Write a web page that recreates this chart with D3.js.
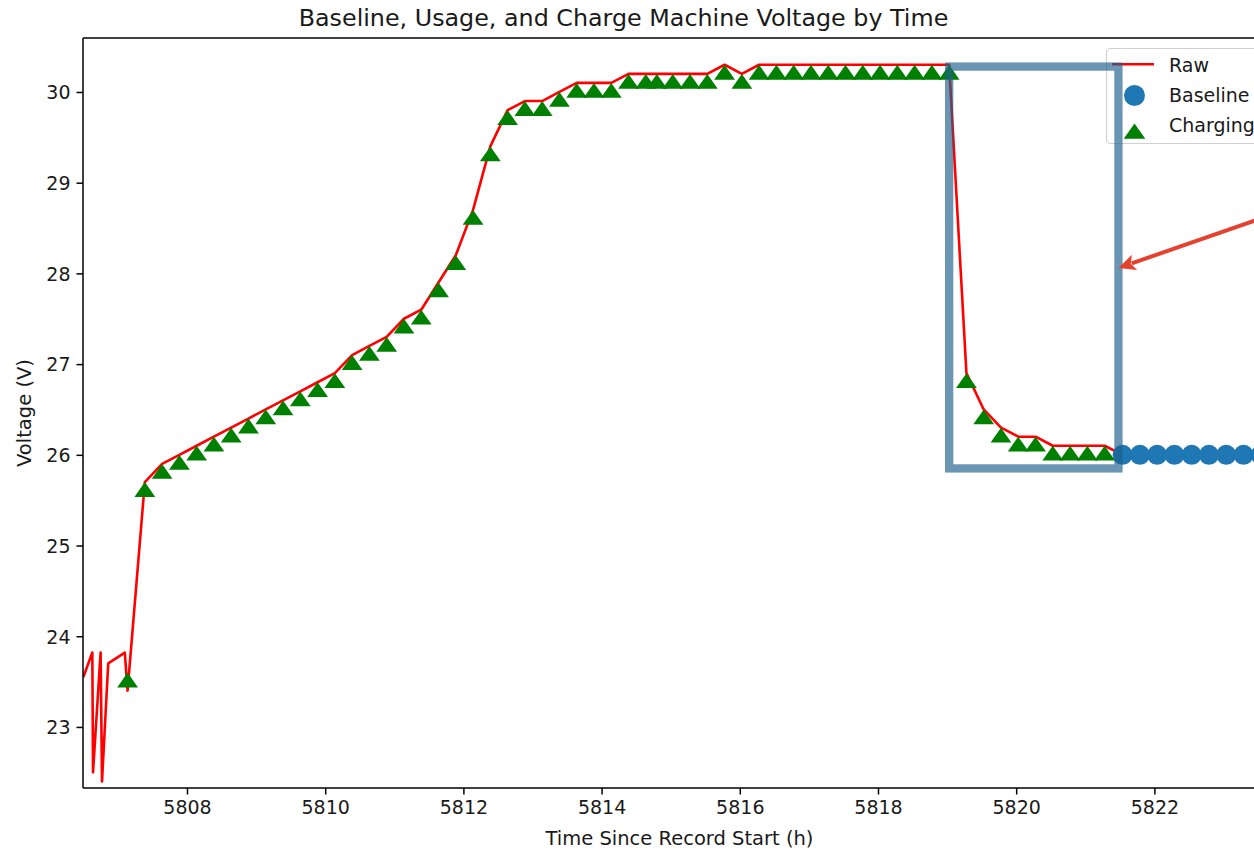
<!DOCTYPE html>
<html><head><meta charset="utf-8">
<script src="https://cdn.jsdelivr.net/npm/d3@7"></script>
<style>
body{margin:0;background:#fff}
svg{display:block}
text{font-family:"DejaVu Sans",sans-serif;fill:#1a1a1a}
</style>
</head><body>
<svg id="chart" width="1254" height="851"></svg>
<script>
// ---------- data ----------
const rawTime = [5806.50,5806.63,5806.64,5806.75,5806.77,5806.86,5807.10,5807.14,
  5807.39,5807.64,5807.89,5808.14,5808.39,5808.64,5808.89,5809.14,5809.39,5809.64,5809.89,
  5810.14,5810.39,5810.64,5810.89,5811.14,5811.39,5811.64,5811.89,5812.14,5812.39,5812.64,
  5812.89,5813.14,5813.39,5813.64,5813.89,5814.14,5814.39,5814.64,5814.80,
  5815.03,5815.28,5815.53,5815.78,5816.03,5816.28,5816.53,5816.78,5817.03,5817.28,5817.53,
  5817.78,5818.03,5818.28,5818.53,5818.78,5819.03,5819.28,5819.53,5819.78,5820.03,5820.28,
  5820.53,5820.78,5821.03,5821.28,5821.54,5821.79,5822.04,5822.29,5822.54,5822.79,5823.04,
  5823.29,5823.54,5823.79];
const rawVoltage = [23.55,23.82,22.50,23.82,22.40,23.70,23.82,23.40,
  25.7,25.9,26.0,26.1,26.2,26.3,26.4,26.5,26.6,26.7,26.8,
  26.9,27.1,27.2,27.3,27.5,27.6,27.9,28.2,28.7,29.4,29.8,
  29.9,29.9,30.0,30.1,30.1,30.1,30.2,30.2,30.2,
  30.2,30.2,30.2,30.3,30.2,30.3,30.3,30.3,30.3,30.3,30.3,
  30.3,30.3,30.3,30.3,30.3,30.3,26.9,26.5,26.3,26.2,26.2,
  26.1,26.1,26.1,26.1,26.0,26.0,26.0,26.0,26.0,26.0,26.0,
  26.0,26.0,26.0];

const chargeTime = [5807.14,5807.39,5807.64,5807.89,5808.14,5808.39,5808.64,5808.89,5809.14,
  5809.39,5809.64,5809.89,5810.14,5810.39,5810.64,5810.89,5811.14,5811.39,5811.64,5811.89,
  5812.14,5812.39,5812.64,5812.89,5813.14,5813.39,5813.64,5813.89,5814.14,5814.39,5814.64,
  5814.80,5815.03,5815.28,5815.53,5815.78,5816.03,5816.28,5816.53,5816.78,5817.03,5817.28,
  5817.53,5817.78,5818.03,5818.28,5818.53,5818.78,5819.03,5819.28,5819.53,5819.78,5820.03,
  5820.28,5820.53,5820.78,5821.03,5821.28];
const chargeVoltage = [23.5,25.6,25.8,25.9,26.0,26.1,26.2,26.3,26.4,
  26.5,26.6,26.7,26.8,27.0,27.1,27.2,27.4,27.5,27.8,28.1,
  28.6,29.3,29.7,29.8,29.8,29.9,30.0,30.0,30.0,30.1,30.1,
  30.1,30.1,30.1,30.1,30.2,30.1,30.2,30.2,30.2,30.2,30.2,
  30.2,30.2,30.2,30.2,30.2,30.2,30.2,26.8,26.4,26.2,26.1,
  26.1,26.0,26.0,26.0,26.0];

const baseTime = [5821.54,5821.79,5822.04,5822.29,5822.54,5822.79,5823.04,5823.29,5823.54,5823.79];
const baseVoltage = [26.0,26.0,26.0,26.0,26.0,26.0,26.0,26.0,26.0,26.0];

const xTicks = [5808,5810,5812,5814,5816,5818,5820,5822];
const yTicks = [23,24,25,26,27,28,29,30];
const xDomain = [5806.495, 5823.76];
const yDomain = [22.327, 30.595];

const legendLabels = ["Raw","Baseline","Charging"];
// highlight annotation (data units): [t0, t1], [v0, v1]
const boxTime = [5819.03, 5821.48];
const boxVoltage = [25.85, 30.28];
const arrowTime = [5823.90, 5821.48];
const arrowVoltage = [28.70, 28.06];

// ---------- layout ----------
const svg = d3.select("#chart");
const L = 83, R = 1276, T = 38, B = 788;
const x = d3.scaleLinear().domain(xDomain).range([L, R]);
const y = d3.scaleLinear().domain(yDomain).range([B, T]);

svg.append("defs").append("clipPath").attr("id","clip")
  .append("rect").attr("x",L).attr("y",T).attr("width",R-L).attr("height",B-T);

// title
svg.append("text").attr("x",623.5).attr("y",26).attr("text-anchor","middle")
  .style("font-size","23.8px").text("Baseline, Usage, and Charge Machine Voltage by Time");

// axes
const xAxis = svg.append("g").attr("transform",`translate(0,${B})`)
  .call(d3.axisBottom(x).tickValues(xTicks).tickFormat(d3.format("d")).tickSize(6.5).tickPadding(6));
const yAxis = svg.append("g").attr("transform",`translate(${L},0)`)
  .call(d3.axisLeft(y).tickValues(yTicks).tickFormat(d3.format("d")).tickSize(6.5).tickPadding(6));
[xAxis,yAxis].forEach(g=>{
  g.select(".domain").remove();
  g.selectAll(".tick line").attr("stroke","#000").attr("stroke-width",1.5);
  g.selectAll(".tick text").style("font-size","19px").style("font-family","DejaVu Sans").attr("fill","#1a1a1a");
});
yAxis.selectAll(".tick text").attr("dy","0.36em");

// axis labels
svg.append("text").attr("x",(L+R)/2).attr("y",845).attr("text-anchor","middle")
  .style("font-size","19.5px").text("Time Since Record Start (h)");
svg.append("text").attr("transform",`translate(31,${(T+B)/2}) rotate(-90)`).attr("text-anchor","middle")
  .style("font-size","19.5px").text("Voltage (V)");

// data
const plot = svg.append("g").attr("clip-path","url(#clip)");
const rawData = rawTime.map((t,i)=>[t,rawVoltage[i]]);
plot.append("path").datum(rawData)
  .attr("fill","none").attr("stroke","#ff0000").attr("stroke-width",2.6).attr("stroke-linejoin","round")
  .attr("d", d3.line().x(d=>x(d[0])).y(d=>y(d[1])));

const baseData = baseTime.map((t,i)=>[t,baseVoltage[i]]);
plot.selectAll("circle.base").data(baseData).enter().append("circle")
  .attr("cx",d=>x(d[0])).attr("cy",d=>y(d[1])).attr("r",10).attr("fill","#1f77b4");

const triPath = "M0,-9L10.4,5.8L-10.4,5.8Z";
const chargeData = chargeTime.map((t,i)=>[t,chargeVoltage[i]]);
plot.selectAll("path.charge").data(chargeData).enter().append("path")
  .attr("d",triPath).attr("fill","#008000")
  .attr("transform",d=>`translate(${x(d[0])},${y(d[1])})`);

// spines
const sp = svg.append("g").attr("stroke","#000").attr("stroke-width",1.5).attr("fill","none");
sp.append("line").attr("x1",L).attr("x2",L).attr("y1",T).attr("y2",B);
sp.append("line").attr("x1",L).attr("x2",R).attr("y1",B).attr("y2",B);
sp.append("line").attr("x1",L).attr("x2",R).attr("y1",T).attr("y2",T);
sp.append("line").attr("x1",R).attr("x2",R).attr("y1",T).attr("y2",B);

// legend
const lg = svg.append("g");
lg.append("rect").attr("x",1106.5).attr("y",48.5).attr("width",170).attr("height",95).attr("rx",4)
  .attr("fill","#fff").attr("fill-opacity",0.8).attr("stroke","#d0d0d0").attr("stroke-width",1.2);
lg.append("line").attr("x1",1112).attr("x2",1154).attr("y1",64.3).attr("y2",64.3)
  .attr("stroke","#ff0000").attr("stroke-width",2.6);
lg.append("circle").attr("cx",1134.5).attr("cy",95.5).attr("r",10.5).attr("fill","#1f77b4");
lg.append("path").attr("d","M0,-9L10.8,6.3L-10.8,6.3Z").attr("fill","#008000")
  .attr("transform","translate(1134.5,132.5)");
const lgY = [71.5,101.5,131.5];
legendLabels.forEach((s,i)=>{
  lg.append("text").attr("x",1169).attr("y",lgY[i]).style("font-size","19px").text(s);
});

// highlight box annotation
svg.append("rect")
  .attr("x",x(boxTime[0])).attr("y",y(boxVoltage[1]))
  .attr("width",x(boxTime[1])-x(boxTime[0])).attr("height",y(boxVoltage[0])-y(boxVoltage[1]))
  .attr("fill","none").attr("stroke","rgb(31,95,139)").attr("stroke-opacity",0.66).attr("stroke-width",8.3);

// arrow annotation
const ax0 = x(arrowTime[0]), ay0 = y(arrowVoltage[0]), ax1 = x(arrowTime[1]), ay1 = y(arrowVoltage[1]);
const ang = Math.atan2(ay1-ay0, ax1-ax0);
const headLen = 17, headW = 8;
const bx = ax1 - headLen*Math.cos(ang), by = ay1 - headLen*Math.sin(ang);
svg.append("line").attr("x1",ax0).attr("y1",ay0).attr("x2",bx+3*Math.cos(ang)).attr("y2",by+3*Math.sin(ang))
  .attr("stroke","#e5412f").attr("stroke-width",4);
const px = -Math.sin(ang), py = Math.cos(ang);
svg.append("path")
  .attr("d",`M${ax1},${ay1}L${bx+headW*px},${by+headW*py}L${bx+4*Math.cos(ang)},${by+4*Math.sin(ang)}L${bx-headW*px},${by-headW*py}Z`)
  .attr("fill","#e5412f");
</script>
</body></html>
